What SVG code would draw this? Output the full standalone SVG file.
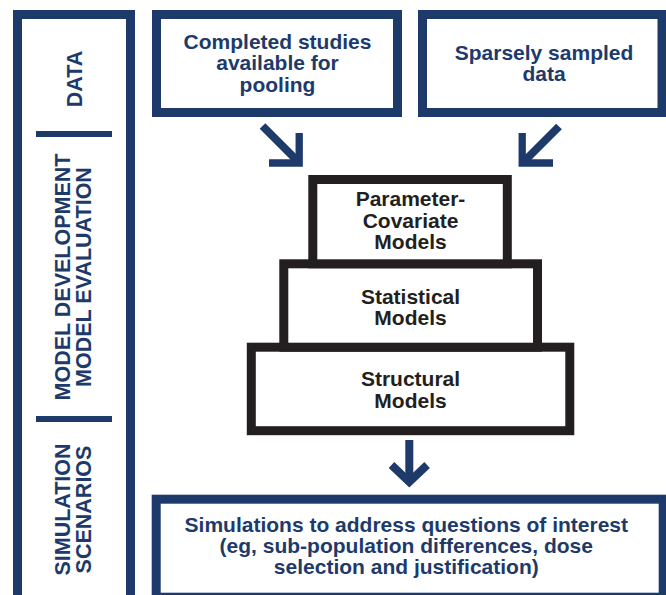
<svg xmlns="http://www.w3.org/2000/svg" width="666" height="595" viewBox="0 0 666 595">
<style>
.nb{fill:#fff;stroke:#1d3a6b;stroke-width:9}
.kb{fill:#fff;stroke:#231f20;stroke-width:9}
.nt{fill:#1d3a6b;font-family:"Liberation Sans",Arial,sans-serif;font-weight:bold;font-size:21px;text-anchor:middle}
.kt{fill:#231f20;font-family:"Liberation Sans",Arial,sans-serif;font-weight:bold;font-size:21px;text-anchor:middle}
.st{fill:#1d3a6b;font-family:"Liberation Sans",Arial,sans-serif;font-weight:bold;font-size:21.5px;text-anchor:middle}
.ar{fill:none;stroke:#1d3a6b;stroke-linejoin:miter;stroke-linecap:butt}
</style>
<rect width="666" height="595" fill="#fff"/>
<g id="stages">
<rect class="nb" x="17.5" y="14.5" width="113" height="585"/>
<rect x="36" y="131" width="76" height="6" fill="#1d3a6b"/>
<rect x="36" y="416" width="76" height="6" fill="#1d3a6b"/>
<text class="st" transform="translate(82,79) rotate(-90)">DATA</text>
<text class="st" transform="translate(70,277) rotate(-90)">MODEL DEVELOPMENT</text>
<text class="st" transform="translate(91,277) rotate(-90)">MODEL EVALUATION</text>
<text class="st" transform="translate(70,509.5) rotate(-90)">SIMULATION</text>
<text class="st" transform="translate(91,509.5) rotate(-90)">SCENARIOS</text>
</g>
<g id="completed">
<rect class="nb" x="156.5" y="14.5" width="241" height="98"/>
<text class="nt" x="277.5" y="48.5">Completed studies</text>
<text class="nt" x="277.5" y="70">available for</text>
<text class="nt" x="277.5" y="91.5">pooling</text>
</g>
<g id="sparse">
<rect class="nb" x="422.5" y="14.5" width="239.5" height="98"/>
<text class="nt" x="544" y="59.5">Sparsely sampled</text>
<text class="nt" x="544" y="81">data</text>
</g>
<g id="structural">
<rect class="kb" x="251.3" y="347.2" width="318.5" height="83.5"/>
<text class="kt" x="410.5" y="386">Structural</text>
<text class="kt" x="410.5" y="407.5">Models</text>
</g>
<g id="statistical">
<rect class="kb" x="283.8" y="263.8" width="253.7" height="83.4"/>
<text class="kt" x="410.5" y="303.5">Statistical</text>
<text class="kt" x="410.5" y="324.5">Models</text>
</g>
<g id="parameter">
<rect class="kb" x="312.8" y="179.5" width="194.5" height="84.3"/>
<text class="kt" x="410.5" y="206">Parameter-</text>
<text class="kt" x="410.5" y="227.5">Covariate</text>
<text class="kt" x="410.5" y="248.5">Models</text>
</g>
<g id="simulations">
<rect class="nb" x="156.2" y="499.2" width="507" height="98"/>
<text class="nt" x="406.3" y="531.7">Simulations to address questions of interest</text>
<text class="nt" x="406.3" y="553.3">(eg, sub-population differences, dose</text>
<text class="nt" x="406.3" y="574.3">selection and justification)</text>
</g>
<g id="connectors">
<path class="ar" stroke-width="8" d="M262.5,126 L297,160.5"/>
<path class="ar" stroke-width="7.3" d="M269,163 L299.2,163 L299.2,133"/>
<path class="ar" stroke-width="8" d="M559,126.5 L524.5,161"/>
<path class="ar" stroke-width="7.3" d="M553,163 L522.2,163 L522.2,133"/>
<path class="ar" stroke-width="8" d="M409.3,440 L409.3,480"/>
<path class="ar" stroke-width="8" d="M391.5,465 L409.3,482 L427.1,465"/>
</g>
</svg>
